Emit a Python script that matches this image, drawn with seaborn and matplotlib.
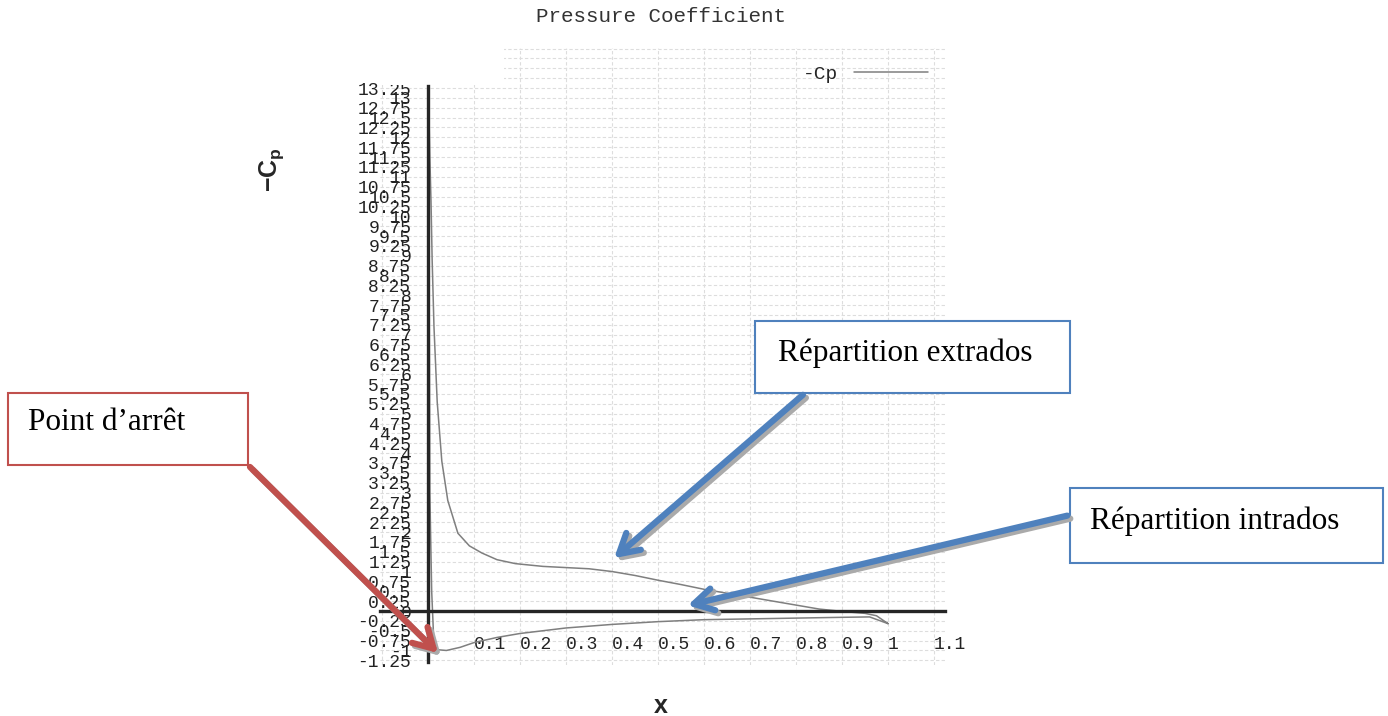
import numpy as np
import pandas as pd
import matplotlib
matplotlib.use('Agg')
import matplotlib.pyplot as plt
import seaborn as sns
from matplotlib.patches import Rectangle, FancyArrowPatch

# Données (-Cp le long de la corde)
x_extrados = [0.001, 0.004, 0.0065, 0.009, 0.013, 0.02, 0.03, 0.043, 0.065, 0.09,
              0.117, 0.15, 0.19, 0.25, 0.3, 0.35, 0.4, 0.45, 0.5, 0.55,
              0.6, 0.65, 0.7, 0.75, 0.8, 0.85, 0.9, 0.95, 0.975, 1.0]
cp_extrados = [13.2, 11.5, 10.4, 8.9, 7.2, 5.3, 3.8, 2.8, 1.97, 1.65,
               1.47, 1.3, 1.2, 1.13, 1.1, 1.07, 1.0, 0.9, 0.78, 0.67,
               0.55, 0.45, 0.35, 0.25, 0.15, 0.05, -0.01, -0.06, -0.12, -0.32]

x_intrados = [0.004, 0.008, 0.012, 0.02, 0.04, 0.07, 0.1, 0.15, 0.2, 0.3,
              0.4, 0.5, 0.6, 0.7, 0.8, 0.9, 0.96, 1.0]
cp_intrados = [3.0, 0.5, -0.6, -0.98, -1.0, -0.92, -0.8, -0.67, -0.57, -0.43,
               -0.34, -0.27, -0.22, -0.2, -0.18, -0.16, -0.15, -0.32]

x_ticks = [0.1, 0.2, 0.3, 0.4, 0.5, 0.6, 0.7, 0.8, 0.9, 1.0, 1.1]
x_labels = ['0.1', '0.2', '0.3', '0.4', '0.5', '0.6', '0.7', '0.8', '0.9', '1', '1.1']
y_ticks = np.arange(-1.25, 13.26, 0.25)

# une seule courbe : extrados du BF vers le BA, puis intrados du BA vers le BF
df = pd.DataFrame({
    'x': x_extrados[::-1] + x_intrados,
    'cp': cp_extrados[::-1] + cp_intrados,
})

sns.set_style('white')
plt.rcParams['font.family'] = ['Liberation Mono', 'DejaVu Sans Mono']
plt.rcParams['mathtext.fontset'] = 'custom'
plt.rcParams['mathtext.bf'] = 'Liberation Sans:bold'
plt.rcParams['mathtext.rm'] = 'Liberation Sans:bold'

W, H = 1388, 716
fig = plt.figure(figsize=(W / 100, H / 100), dpi=100)


def px(x, y):
    return (x / W, 1 - y / H)


# axes placés en pixels
left, right, top, bottom = 380, 945, 48, 665
ax = fig.add_axes([left / W, 1 - bottom / H, (right - left) / W, (bottom - top) / H])

sns.lineplot(data=df, x='x', y='cp', sort=False, estimator=None, color='#7f7f7f',
             linewidth=1.1, label='-Cp', ax=ax, zorder=3)

ax.set_xlim((left - 428) / 460, (right - 428) / 460)
ax.set_ylim((611 - bottom) / 39.47, (611 - top) / 39.47)

# grille pointillée
for yv in np.arange(-1.25, 14.3, 0.25):
    ax.axhline(yv, color='#dddddd', lw=0.8, ls=(0, (3, 2)), zorder=0)
for xv in [-0.1] + x_ticks:
    ax.axvline(xv, color='#dddddd', lw=0.8, ls=(0, (3, 2)), zorder=0)
ax.add_patch(Rectangle((-0.2, 13.32), 0.365, 2, facecolor='white', edgecolor='none', zorder=1))

# axes passant par l'origine
for s in ['top', 'right']:
    ax.spines[s].set_visible(False)
ax.spines['left'].set_position(('data', 0))
ax.spines['bottom'].set_position(('data', 0))
ax.spines['left'].set_bounds(-1.3, 13.3)
ax.spines['left'].set_linewidth(2.4)
ax.spines['bottom'].set_linewidth(2.4)
ax.spines['left'].set_zorder(4)
ax.spines['bottom'].set_zorder(4)

ax.set_xticks(x_ticks)
ax.set_xticklabels(x_labels, ha='left')
ax.set_yticks(y_ticks)
ax.set_yticklabels([f'{v:g}' for v in y_ticks])
ax.tick_params(axis='both', direction='inout', length=8, width=1, color='black',
               labelsize=13, labelcolor='#222222')
ax.tick_params(axis='x', pad=14)
ax.tick_params(axis='y', pad=8)
ax.set_xlabel('')
ax.set_ylabel('')

ax.legend(loc='upper right', frameon=False, markerfirst=False, fontsize=14,
          handlelength=3.8, bbox_to_anchor=(1.0, 1.0))

fig.text(*px(661, 17), 'Pressure Coefficient', ha='center', va='center', fontsize=15,
         color='#333333')
fig.text(*px(272, 170), r'$\mathbf{-C_p}$', rotation=90, ha='center', va='center',
         fontsize=18)
fig.text(*px(661, 706), r'$\mathbf{x}$', ha='center', va='center', fontsize=18)

# encadrés d'annotation
boxes = [
    ((755, 321, 1070, 393), 'Répartition extrados', (778, 353), '#4f81bd'),
    ((1070, 488, 1383, 563), 'Répartition intrados', (1090, 521), '#4f81bd'),
    ((8, 393, 248, 465), 'Point d’arrêt', (28, 423), '#c0504d'),
]
for (x0, y0, x1, y1), txt, (tx, ty), col in boxes:
    fig.patches.append(Rectangle(px(x0, y1), (x1 - x0) / W, (y1 - y0) / H,
                                 transform=fig.transFigure, facecolor='white',
                                 edgecolor=col, lw=1.5, zorder=5))
    fig.text(*px(tx, ty), txt, ha='left', va='center', fontsize=22.5,
             family='Liberation Serif', color='black', zorder=6)

arrows = [
    ((805, 393), (612, 560), '#4f81bd'),
    ((1070, 515), (685, 606), '#4f81bd'),
    ((248, 465), (440, 655), '#c0504d'),
]
for (xs, ys), (xe, ye), col in arrows:
    fig.add_artist(FancyArrowPatch(
        px(xs + 3, ys + 3), px(xe + 3, ye + 3), transform=fig.transFigure,
        arrowstyle='->,head_length=14,head_width=8', color='#aaaaaa', lw=4.5,
        mutation_scale=1, zorder=6))
    fig.add_artist(FancyArrowPatch(
        px(xs, ys), px(xe, ye), transform=fig.transFigure,
        arrowstyle='->,head_length=14,head_width=8', color=col, lw=4.5,
        mutation_scale=1, zorder=7))

fig.savefig('out.png', dpi=100)
